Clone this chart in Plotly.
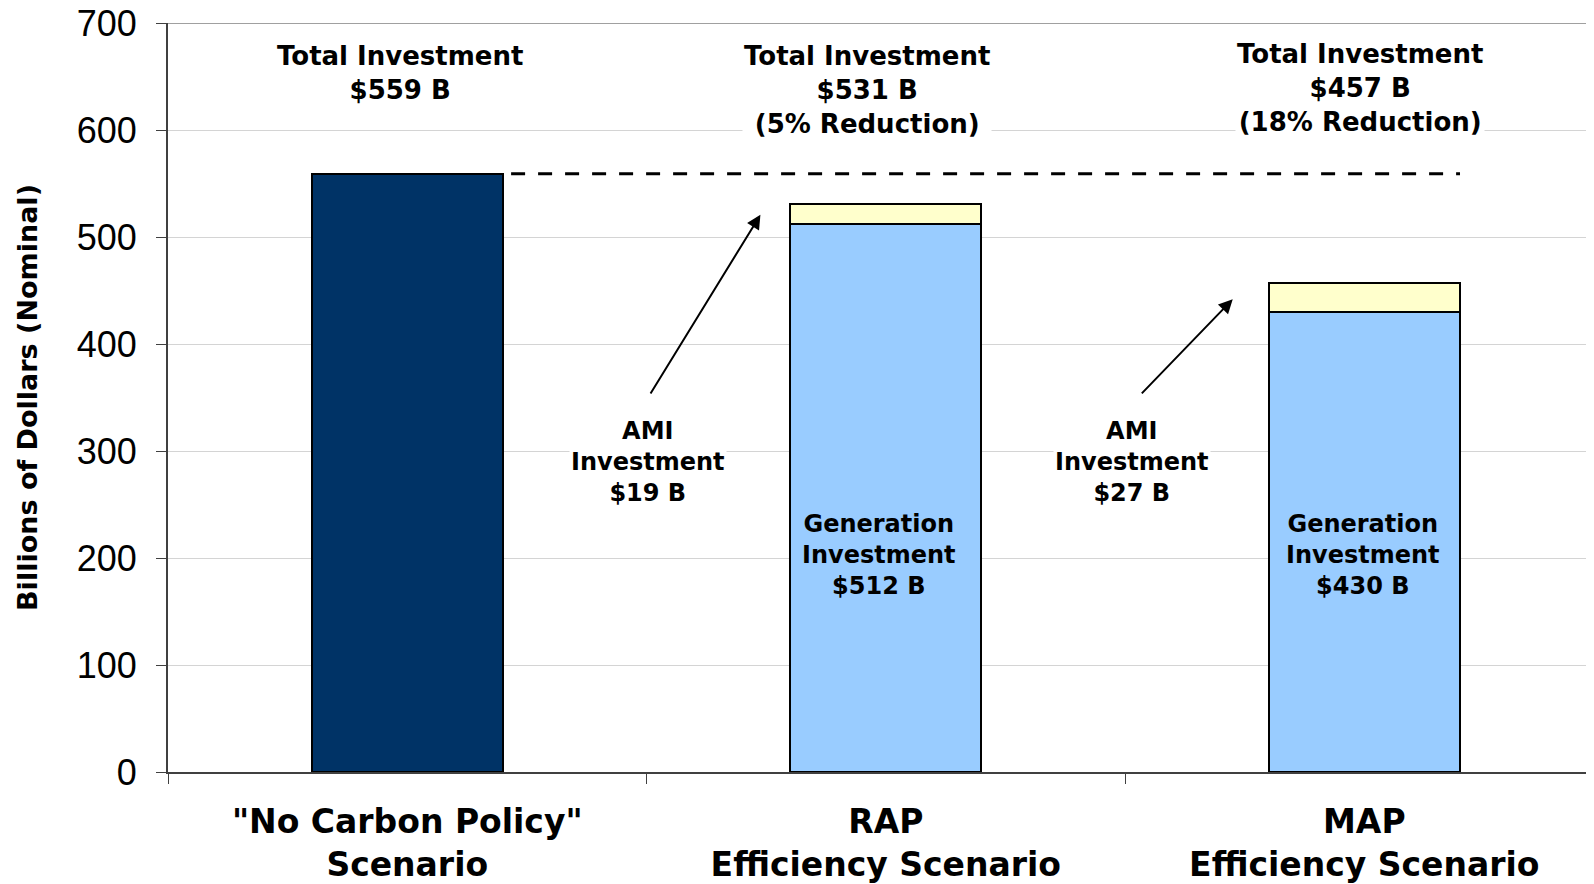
import plotly.graph_objects as go

categories = ['"No Carbon Policy"<br>Scenario', 'RAP<br>Efficiency Scenario', 'MAP<br>Efficiency Scenario']
baseline_total = [559, None, None]
generation = [None, 512, 430]
ami = [None, 19, 27]
totals = [559, 531, 457]
total_labels = ["Total Investment<br>$559 B",
                "Total Investment<br>$531 B<br>(5% Reduction)",
                "Total Investment<br>$457 B<br>(18% Reduction)"]
ami_labels = ["AMI<br>Investment<br>$19 B", "AMI<br>Investment<br>$27 B"]
gen_labels = ["Generation<br>Investment<br>$512 B", "Generation<br>Investment<br>$430 B"]
y_ticks = [0, 100, 200, 300, 400, 500, 600, 700]

BOLD = "DejaVu Sans"
outline = dict(color="black", width=2)

fig = go.Figure()
fig.add_trace(go.Bar(x=categories, y=baseline_total, marker=dict(color="#003366", line=outline),
                     width=0.4, showlegend=False))
fig.add_trace(go.Bar(x=categories, y=generation, marker=dict(color="#99CCFF", line=outline),
                     width=0.4, showlegend=False))
fig.add_trace(go.Bar(x=categories, y=ami, marker=dict(color="#FFFFCC", line=outline),
                     width=0.4, showlegend=False))

# dashed reference line at the baseline total
fig.add_shape(type="line", xref="x", yref="y", x0=0.217, x1=2.2, y0=totals[0], y1=totals[0],
              line=dict(color="black", width=3, dash="14px,13px"), layer="above")

# top gridline emphasis
fig.add_shape(type="line", xref="paper", yref="y", x0=0, x1=1, y0=y_ticks[-1], y1=y_ticks[-1],
              line=dict(color="#a0a0a0", width=2), layer="below")

# total investment labels
tot_pos = [(-0.016, 653), (0.961, 637), (1.99, 639)]
for (xx, yy), txt in zip(tot_pos, total_labels):
    fig.add_annotation(x=xx, y=yy, xref="x", yref="y", text="<b>" + txt + "</b>", showarrow=False,
                       font=dict(family=BOLD, size=26, color="black"), bgcolor="white",
                       align="center")

# AMI labels and arrows
ami_pos = [(0.504, 289.7), (1.515, 289.7)]
for (xx, yy), txt in zip(ami_pos, ami_labels):
    fig.add_annotation(x=xx, y=yy, xref="x", yref="y", text="<b>" + txt + "</b>", showarrow=False,
                       font=dict(family=BOLD, size=24, color="black"), bgcolor="white",
                       align="center")

arrows = [((0.5065, 352.4), (0.738, 520.7)), ((1.532, 352.4), (1.725, 441.8))]
for (tx, ty), (hx, hy) in arrows:
    fig.add_annotation(x=hx, y=hy, ax=tx, ay=ty, xref="x", yref="y", axref="x", ayref="y",
                       text="", showarrow=True, arrowhead=2, arrowsize=1.4, arrowwidth=2,
                       arrowcolor="black")

gen_pos = [(0.986, 202.4), (1.997, 202.4)]
for (xx, yy), txt in zip(gen_pos, gen_labels):
    fig.add_annotation(x=xx, y=yy, xref="x", yref="y", text="<b>" + txt + "</b>", showarrow=False,
                       font=dict(family=BOLD, size=24, color="black"), align="center")

fig.update_layout(
    width=1586, height=876,
    margin=dict(l=160, r=0, t=15, b=112, autoexpand=False),
    barmode="stack",
    plot_bgcolor="white", paper_bgcolor="white",
    font=dict(family=BOLD, color="black"),
)
fig.update_xaxes(
    type="category", range=[-0.5, 2.48],
    showline=True, linecolor="#404040", linewidth=2,
    ticks="outside", tickson="boundaries", ticklen=10, tickcolor="#404040",
    tickfont=dict(family=BOLD, size=33, color="black", weight="bold"),
    ticklabelstandoff=19, ticklabeloverflow="allow",
    showgrid=False, zeroline=False,
)
fig.update_yaxes(
    range=[0, 700], tickvals=y_ticks,
    showline=True, linecolor="#404040", linewidth=2,
    ticks="outside", ticklen=10, tickcolor="#404040",
    tickfont=dict(family="Liberation Sans", size=36, color="black"),
    ticklabelstandoff=12, ticklabeloverflow="allow",
    showgrid=True, gridcolor="#d4d4d4", gridwidth=1, zeroline=False,
    title=dict(text="<b>Billions of Dollars (Nominal)</b>",
               font=dict(family=BOLD, size=27, color="black"), standoff=31),
)

fig.write_html("out.html")
